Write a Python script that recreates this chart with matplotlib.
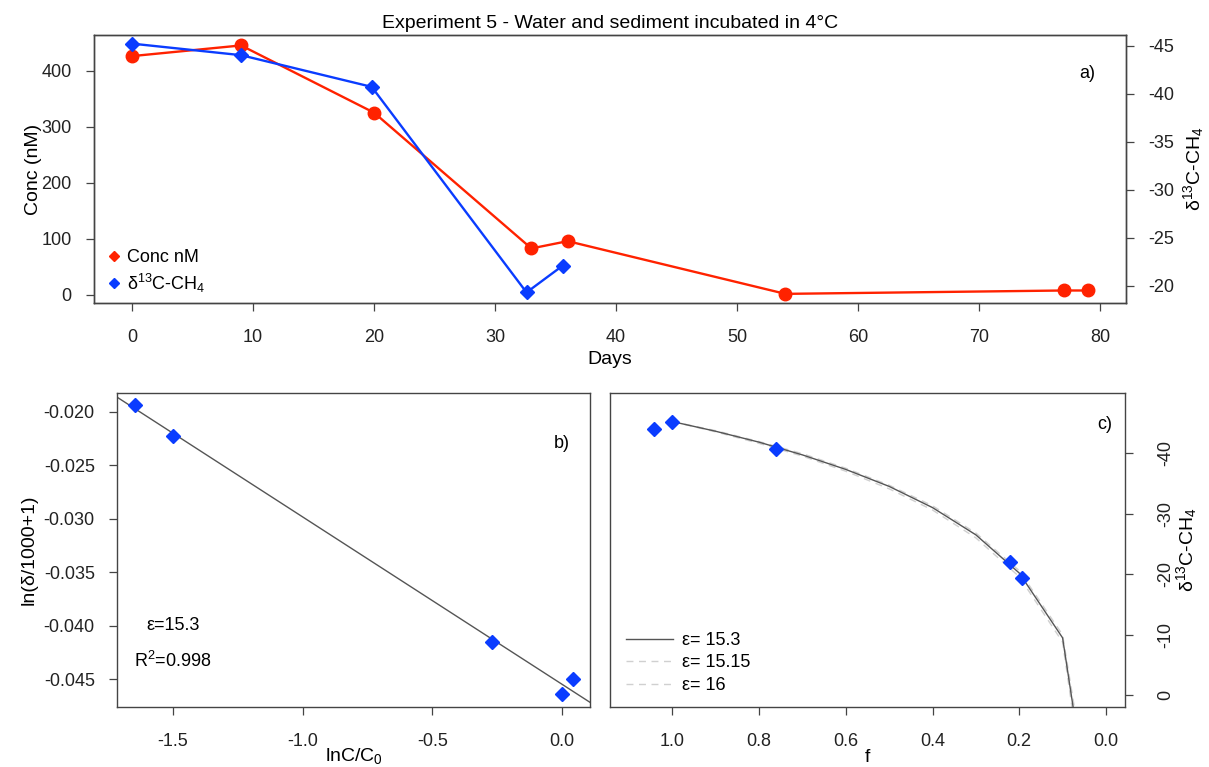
import numpy as np
import matplotlib.pyplot as plt
from matplotlib.lines import Line2D

plt.rcParams['font.family'] = ['Liberation Sans', 'DejaVu Sans']
plt.rcParams['mathtext.fontset'] = 'custom'
plt.rcParams['mathtext.rm'] = 'Liberation Sans'
plt.rcParams['mathtext.it'] = 'Liberation Sans:italic'
plt.rcParams['axes.unicode_minus'] = False

# panel a: CH4 concentration over time
conc_days = [0, 9, 20, 33, 36, 54, 77, 79]
conc_nM = [426, 445, 325, 83, 96, 2, 8, 8]
# panel a: d13C-CH4 over time (right axis)
d13c_days = [0, 9, 19.8, 32.6, 35.6]
d13c = [-45.2, -44.0, -40.7, -19.3, -22.1]

# panel b: ln(C/C0) vs ln(d/1000+1)
ln_f = [-1.646, -1.50, -0.27, 0.0, 0.042]
ln_d = [-0.0194, -0.0223, -0.0415, -0.0464, -0.0450]

# panel c: residual fraction vs d13C, with Rayleigh curves
f_obs = [1.042, 1.0, 0.761, 0.222, 0.194]
d_obs = [-44.0, -45.2, -40.7, -22.1, -19.3]
f_curve = [1.0, 0.9, 0.8, 0.7, 0.6, 0.5, 0.4, 0.3, 0.2, 0.1, 0.05]
d_eps153 = [-45.2, -43.6, -41.8, -39.7, -37.3, -34.5, -31.0, -26.5, -20.2, -9.5, 14.0]
d_eps1515 = [-45.2, -43.7, -41.9, -39.9, -37.5, -34.7, -31.3, -26.8, -20.6, -10.0, 12.0]
d_eps16 = [-45.2, -43.5, -41.6, -39.5, -37.0, -34.1, -30.6, -26.0, -19.6, -8.8, 16.0]

red = '#ff2200'
blue = '#0a3cff'
edge = '#444444'
fs = 13

fig = plt.figure(figsize=(12.09, 7.67), dpi=100)
W, H = 1209, 767

def box(l, r, t, b):
    return [l / W, 1 - b / H, (r - l) / W, (b - t) / H]

def style(ax):
    for s in ax.spines.values():
        s.set_color(edge)
        s.set_linewidth(1.0)
    ax.tick_params(direction='out', length=6, width=0.9, color=edge,
                   labelsize=fs, labelcolor='#222222')
    ax.tick_params(axis='x', pad=13)
    ax.tick_params(axis='y', pad=10)

# ---- panel a ----
ax = fig.add_axes(box(94, 1126, 35, 303))
style(ax)
ax.plot(conc_days, conc_nM, '-o', color=red, lw=1.7, ms=9, zorder=3)
ax.set_xlim(-3.16, 82.16)
ax.set_ylim(-14.3, 463.6)
ax.set_xticks(range(0, 81, 10))
ax.set_yticks(range(0, 401, 100))
ax.set_xlabel('Days', fontsize=14, labelpad=3)
ax.set_ylabel('Conc (nM)', fontsize=14, labelpad=0)
ax.set_title('Experiment 5 - Water and sediment incubated in 4°C', fontsize=14, pad=5)
ax.text(0.962, 0.858, 'a)', transform=ax.transAxes, ha='center', va='center', fontsize=fs)

ax2 = ax.twinx()
style(ax2)
ax2.tick_params(axis='y', pad=10)
ax2.plot(d13c_days, d13c, '-D', color=blue, lw=1.7, ms=7, zorder=3)
ax2.set_ylim(-18.2, -46.1)
ax2.set_yticks(range(-45, -19, 5))
ax2.set_ylabel('δ$^{13}$C-CH$_4$', fontsize=14, labelpad=5)

handles = [Line2D([], [], color=red, marker='D', ms=5, ls='none'),
           Line2D([], [], color=blue, marker='D', ms=5, ls='none')]
ax.legend(handles, ['Conc nM', 'δ$^{13}$C-CH$_4$'], loc='lower left', frameon=False,
          fontsize=fs, handletextpad=0.2, handlelength=1.0, labelspacing=0.3,
          bbox_to_anchor=(-0.005, -0.03))

# ---- panel b ----
bx = fig.add_axes(box(117, 590, 393, 707))
style(bx)
slope, icpt = np.polyfit(ln_f, ln_d, 1)
bx.axline((0, icpt), slope=slope, color='#555555', lw=1.0, zorder=2)
bx.plot(ln_f, ln_d, 'D', color=blue, ms=7, ls='none', zorder=3)
bx.set_xlim(-1.716, 0.108)
bx.set_ylim(-0.0476, -0.01825)
bx.set_xticks([-1.5, -1.0, -0.5, 0.0])
bx.set_xticklabels(['-1.5', '-1.0', '-0.5', '0.0'])
bx.set_yticks([-0.020, -0.025, -0.030, -0.035, -0.040, -0.045])
bx.set_yticklabels(['-0.020', '-0.025', '-0.030', '-0.035', '-0.040', '-0.045'])
bx.set_xlabel('lnC/C$_0$', fontsize=14, labelpad=-3)
bx.set_ylabel('ln(δ/1000+1)', fontsize=14, labelpad=4)
bx.text(0.94, 0.84, 'b)', transform=bx.transAxes, ha='center', va='center', fontsize=fs)
bx.text(0.118, 0.259, 'ε=15.3', transform=bx.transAxes, ha='center', va='center', fontsize=fs)
bx.text(0.118, 0.146, 'R$^2$=0.998', transform=bx.transAxes, ha='center', va='center', fontsize=fs)

# ---- panel c ----
cx = fig.add_axes(box(610, 1125, 393, 707))
style(cx)
l1, = cx.plot(f_curve, d_eps153, color='#555555', lw=1.0, zorder=2)
l2, = cx.plot(f_curve, d_eps1515, color='#d0d0d0', lw=1.0, ls=(0, (5, 4)), zorder=1)
l3, = cx.plot(f_curve, d_eps16, color='#d0d0d0', lw=1.0, ls=(0, (5, 4)), zorder=1)
cx.plot(f_obs, d_obs, 'D', color=blue, ms=7, ls='none', zorder=3)
cx.set_xlim(1.144, -0.044)
cx.set_ylim(1.92, -49.92)
cx.set_xticks([1.0, 0.8, 0.6, 0.4, 0.2, 0.0])
cx.set_xticklabels(['1.0', '0.8', '0.6', '0.4', '0.2', '0.0'])
cx.yaxis.tick_right()
cx.yaxis.set_label_position('right')
cx.tick_params(axis='y', pad=17)
cx.set_yticks([0, -10, -20, -30, -40])
for t in cx.get_yticklabels():
    t.set_rotation(90)
    t.set_va('center')
cx.set_xlabel('f', fontsize=14, labelpad=-1)
cx.set_ylabel('δ$^{13}$C-CH$_4$', fontsize=14, labelpad=0)
cx.text(0.96, 0.90, 'c)', transform=cx.transAxes, ha='center', va='center', fontsize=fs)
cx.legend([l1, l2, l3], ['ε= 15.3', 'ε= 15.15', 'ε= 16'], loc='lower left',
          frameon=False, fontsize=fs, handlelength=2.6, handletextpad=0.5,
          labelspacing=0.3, bbox_to_anchor=(0.0, -0.01))

fig.savefig('out.png', dpi=100)
